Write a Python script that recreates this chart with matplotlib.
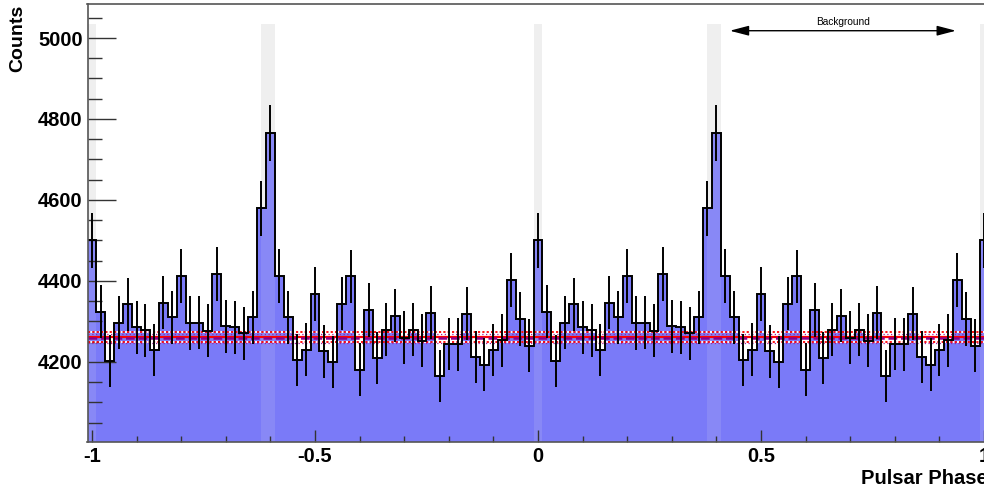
import numpy as np
import matplotlib
matplotlib.use("Agg")
import matplotlib.pyplot as plt

# ---- data -------------------------------------------------------------
# counts per phase bin (bin width 0.02, bin centres 0.00 ... 0.98)
phase_counts = [4500, 4324, 4202, 4297, 4342, 4286, 4278, 4229, 4346, 4310,
                4412, 4296, 4297, 4277, 4417, 4288, 4286, 4271, 4310, 4579,
                4765, 4412, 4310, 4205, 4230, 4368, 4226, 4199, 4344, 4411,
                4181, 4328, 4209, 4279, 4314, 4260, 4279, 4252, 4321, 4165,
                4244, 4243, 4319, 4212, 4193, 4229, 4253, 4403, 4306, 4240]
bin_width = 0.02
phase_start, phase_end = -1.0, 1.0

# on-pulse (shaded) regions
onpulse_lo = [-1.01, -0.62, -0.01, 0.38, 0.99]
onpulse_hi = [-0.99, -0.59, 0.01, 0.41, 1.01]

# background level and its uncertainty
bkg_level = 4262
bkg_err = 12
bkg_level_alt = 4260
bkg_err_alt = 12
bkg_region = [0.43, 0.937]

# ---- build the two-cycle histogram ------------------------------------
counts = np.array(phase_counts + phase_counts + phase_counts[:1], dtype=float)
nb = len(counts)
edges = np.linspace(phase_start - bin_width / 2, phase_end + bin_width / 2, nb + 1)
centres = 0.5 * (edges[:-1] + edges[1:])
errors = np.sqrt(counts)

plt.rcParams['font.family'] = ['Liberation Sans', 'DejaVu Sans']

W, H = 984, 492
fig = plt.figure(figsize=(W / 100, H / 100), dpi=100)
ax_l, ax_r = 87.5, 988.5
ax_t, ax_b = 4, 442
ax = fig.add_axes([ax_l / W, (H - ax_b) / H, (ax_r - ax_l) / W, (ax_b - ax_t) / H])

ylo, yhi = 4002, 5084
ax.set_xlim(edges[0], edges[-1])
ax.set_ylim(ylo, yhi)

# shaded on-pulse bands
for lo, hi in zip(onpulse_lo, onpulse_hi):
    ax.fill_between([lo, hi], ylo, 5035, color='#efefef', lw=0, zorder=0)
    ax.fill_between([lo, hi], ylo, 5035, color='#efefef', alpha=0.12, lw=0, zorder=1.5)

# filled histogram
ax.stairs(counts, edges, baseline=ylo - 100, fill=True,
          color='#7a7af8', lw=0, zorder=1)

# background lines
ax.axhline(bkg_level, color='red', lw=1.6, zorder=2)
for s in (+1, -1):
    ax.axhline(bkg_level + s * bkg_err, color='red', lw=1.3,
               linestyle=(0, (1.2, 1.2)), gapcolor='white', zorder=2)
    ax.axhline(bkg_level_alt + s * bkg_err_alt - 2, color='#a020a0', lw=0.9,
               linestyle=(0, (1, 2)), zorder=2.1)
ax.axhline(bkg_level_alt, color='#8b008b', lw=1.8,
           linestyle=(0, (3.5, 1.5)), zorder=2.2)

# outline and error bars
ax.stairs(counts, edges, baseline=None, color='black', lw=1.4, zorder=3)
ax.errorbar(centres, counts, yerr=errors, fmt='none', ecolor='black',
            elinewidth=1.4, capsize=0, zorder=3)

# background arrow
ax.annotate('', xy=(bkg_region[0], 5018), xytext=(bkg_region[1], 5018),
            arrowprops=dict(arrowstyle='<|-|>,head_length=1.15,head_width=0.3',
                            mutation_scale=10, color='black', lw=1,
                            shrinkA=0, shrinkB=0), zorder=4)
ax.text(0.5 * (bkg_region[0] + bkg_region[1]), 5040, 'Background',
        ha='center', va='center', fontsize=7.3)

# axes styling
ax.set_xticks([-1, -0.5, 0, 0.5, 1])
ax.set_xticklabels(['-1', '-0.5', '0', '0.5', '1'])
ax.set_xticks(np.arange(-1, 1.001, 0.1), minor=True)
ax.set_yticks([4200, 4400, 4600, 4800, 5000])
ax.set_yticks(np.arange(4050, 5084, 50), minor=True)
ax.tick_params(axis='both', which='both', direction='in', color='#333333',
               width=1, top=False, right=False)
ax.tick_params(axis='x', which='major', length=8.6, pad=3.5, labelsize=14.5)
ax.tick_params(axis='x', which='minor', length=4.3)
ax.tick_params(axis='y', which='major', length=20, pad=3.5, labelsize=14.5)
ax.tick_params(axis='y', which='minor', length=10)
for lab in ax.get_xticklabels() + ax.get_yticklabels():
    lab.set_fontweight('bold')
for sp in ax.spines.values():
    sp.set_color('#555555')
    sp.set_linewidth(1.2)
    sp.set_zorder(5)

fig.text(18 / W, 1 - 5 / H, 'Counts', rotation=90, ha='center', va='top',
         fontsize=14, fontweight='bold')
fig.text(988 / W, 1 - 478 / H, 'Pulsar Phase', ha='right', va='center',
         fontsize=14.5, fontweight='bold')

fig.savefig('out.png', dpi=100)
